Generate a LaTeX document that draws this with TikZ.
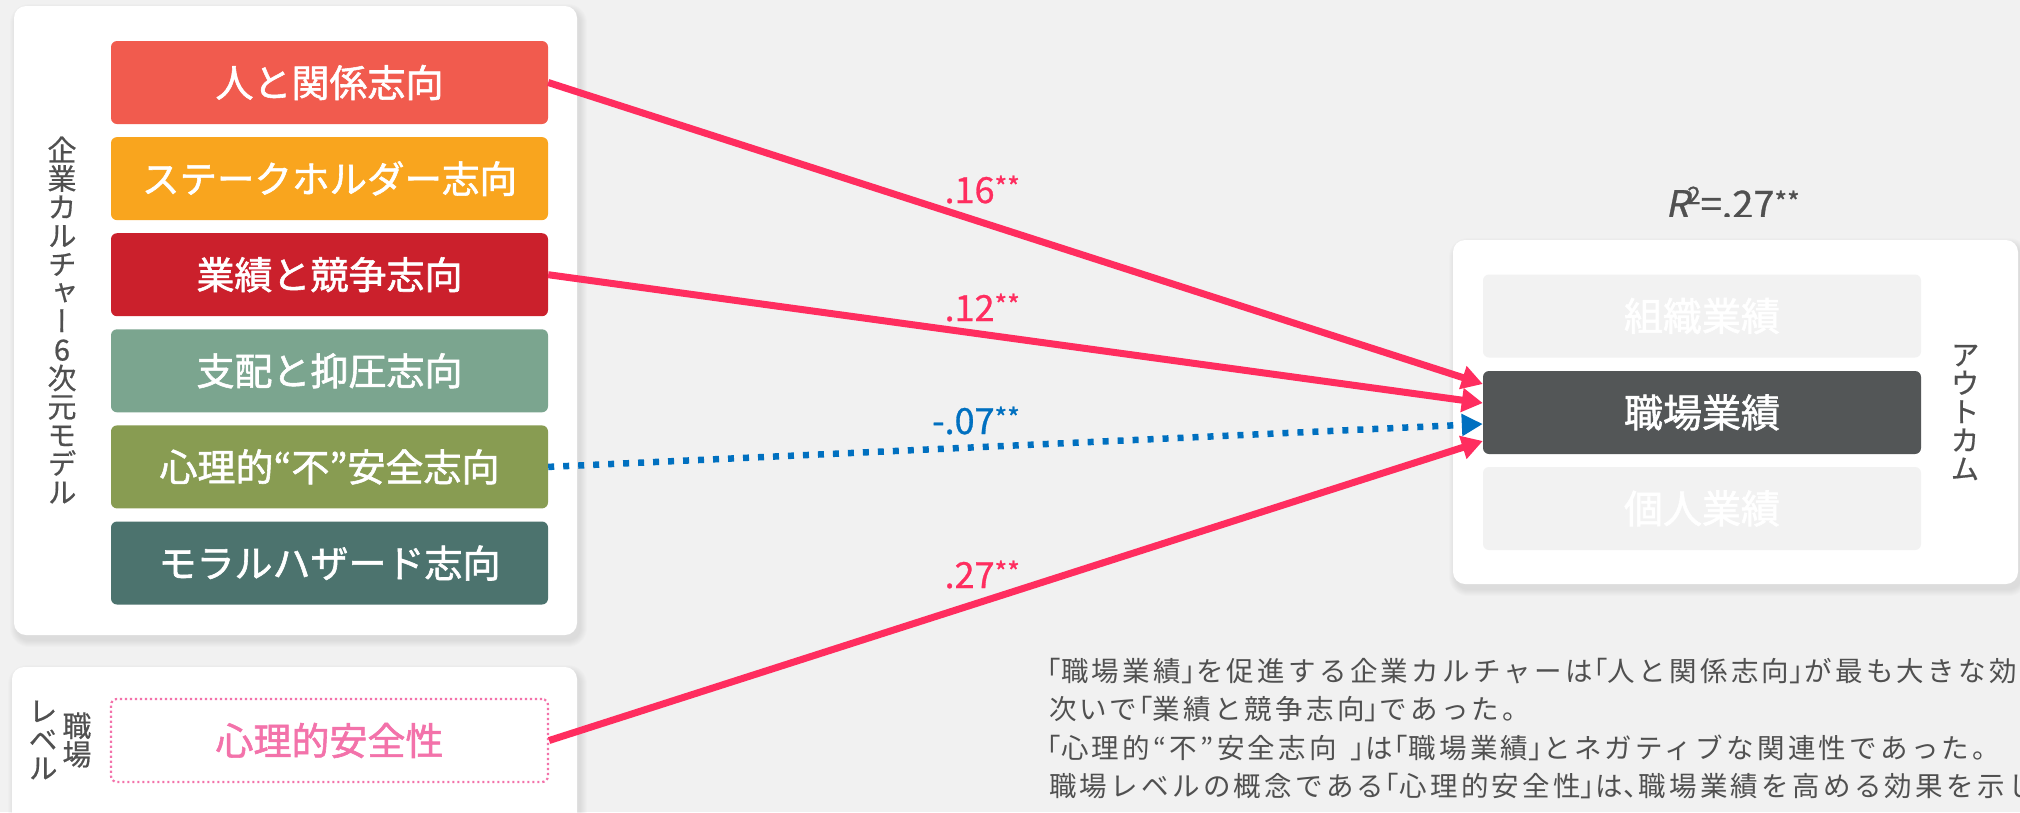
\documentclass[tikz,border=0pt]{standalone}
\usepackage{fontspec}
\setmainfont{Noto Sans CJK JP}
\newfontfamily\jpfont{Noto Sans CJK JP}[LetterSpace=12]
\newfontfamily\boxfont{Noto Sans CJK JP}[FakeBold=1.5]
\newfontfamily\numfont{Noto Sans CJK JP}[FakeBold=0.8]
\newfontfamily\vfont{Noto Sans CJK JP}[RawFeature={+vert}, FakeBold=0.6]
\newfontfamily\slfont{Noto Sans CJK JP}[FakeSlant=0.2, FakeBold=0.8]
\usetikzlibrary{arrows.meta,calc}
\definecolor{bg}{HTML}{F1F1F1}
\definecolor{c1}{HTML}{F15B4E}
\definecolor{c2}{HTML}{F9A51E}
\definecolor{c3}{HTML}{CB202C}
\definecolor{c4}{HTML}{7BA58F}
\definecolor{c5}{HTML}{889C52}
\definecolor{c6}{HTML}{4C736E}
\definecolor{pinkline}{HTML}{FF2D5F}
\definecolor{blueline}{HTML}{0070C0}
\definecolor{psypink}{HTML}{F372AA}
\definecolor{txtgray}{HTML}{505050}
\definecolor{outdark}{HTML}{535657}
\definecolor{outlight}{HTML}{F2F2F2}
\newcommand{\twostars}[1]{\raisebox{#1}{\fontsize{27}{27}\selectfont **}}
\newcommand{\kl}{\makebox[15pt][r]{「}}
\newcommand{\kr}{\makebox[15pt][l]{」}}
\newcommand{\kc}{\makebox[15pt][l]{、}}
\begin{document}
\begin{tikzpicture}[x=1pt,y=-1pt,
  panel/.style={fill=white, rounded corners=12pt},
  shadowlayer/.style={fill=black, opacity=0.012},
  cbox/.style={rounded corners=6pt, minimum width=437pt, minimum height=83pt, inner sep=0pt, text=white, font={\boxfont\fontsize{38}{40}\selectfont}},
  obox/.style={rounded corners=6pt, minimum width=438pt, minimum height=83pt, inner sep=0pt, text=white, font={\boxfont\fontsize{39}{41}\selectfont}},
  arr/.style={draw=pinkline, line width=7pt, -{Triangle[length=21pt,width=23pt]}},
  darr/.style={draw=blueline, line width=6.5pt, dash pattern=on 6pt off 9pt, -{Triangle[length=21pt,width=21pt]}},
  coef/.style={anchor=base east, inner sep=0pt, font={\numfont\fontsize{36}{38}\selectfont}},
  vlab/.style={align=center, inner sep=0pt, text=txtgray, font={\vfont\fontsize{29}{28.5}\selectfont\lineskiplimit=-30pt}},
  para/.style={anchor=base west, inner sep=0pt, text=txtgray, font={\jpfont\fontsize{27.5}{30}\selectfont}}
]
\useasboundingbox (0,0) rectangle (2020,812);
\fill[bg] (0,0) rectangle (2020,812);
\clip (0,0) rectangle (2020,812);

% soft shadows
\foreach \k in {1,...,7}{
  \fill[shadowlayer, rounded corners=12pt+\k pt] (14-\k+3,6-\k+5) rectangle (577+\k+3,635+\k+5);
  \fill[shadowlayer, rounded corners=12pt+\k pt] (12-\k+3,667-\k+5) rectangle (577+\k+3,840+\k+5);
  \fill[shadowlayer, rounded corners=12pt+\k pt] (1453-\k+3,240-\k+5) rectangle (2018+\k+3,584+\k+5);
}
% panels
\fill[panel] (14,6) rectangle (577,635);
\fill[panel] (12,667) rectangle (577,840);
\fill[panel] (1453,240) rectangle (2018,584);

% culture boxes
\node[cbox, fill=c1] (b1) at (329.5,82.5) {人と関係志向};
\node[cbox, fill=c2, font={\boxfont\fontsize{37.5}{40}\selectfont}] (b2) at (329.5,178.6) {ステークホルダー志向};
\node[cbox, fill=c3] (b3) at (329.5,274.7) {業績と競争志向};
\node[cbox, fill=c4] (b4) at (329.5,370.8) {支配と抑圧志向};
\node[cbox, fill=c5] (b5) at (329.5,466.9) {心理的“不”安全志向};
\node[cbox, fill=c6] (b6) at (329.5,563) {モラルハザード志向};

% workplace level box
\node[cbox, fill=white, draw=psypink, line width=2.2pt, dash pattern=on 2.2pt off 2.8pt, text=psypink] (psy) at (329.5,740.5) {心理的安全性};

% vertical labels
\node[vlab] (culture) at (62,320) {企\\業\\カ\\ル\\チ\\ャ\\ー\\6\\次\\元\\モ\\デ\\ル};
\node[vlab] (shokuba) at (77,740) {職\\場};
\node[vlab] (level) at (43,740) {レ\\ベ\\ル};
\node[vlab] (outcome) at (1965,412.5) {ア\\ウ\\ト\\カ\\ム};

% outcome boxes
\node[obox, fill=outlight] (o1) at (1702,316) {組織業績};
\node[obox, fill=outdark] (o2) at (1702,412.5) {職場業績};
\node[obox, fill=outlight] (o3) at (1702,508.5) {個人業績};

% R squared
\begin{scope}
\clip (1600,150) rectangle (1860,216.5);
\node[anchor=base west, inner sep=0pt, text=txtgray, font={\numfont\fontsize{38}{40}\selectfont}] (r2) at (1665,218)
  {{\slfont R}\hspace{-2pt}\raisebox{14pt}{\fontsize{24}{24}\selectfont 2}=.27\twostars{6pt}};
\end{scope}

% connectors
\draw[arr] (b1.east) -- ([yshift=28.5pt]o2.west);
\draw[arr] (b3.east) -- ([yshift=9.5pt]o2.west);
\draw[darr] (b5.east) -- ([yshift=-11.5pt]o2.west);
\draw[arr] (psy.east) -- ([yshift=-28.5pt]o2.west);

% coefficients
\node[coef, text=pinkline] (k1) at (1020,203) {.16\twostars{6pt}};
\node[coef, text=pinkline] (k2) at (1020,321) {.12\twostars{6pt}};
\node[coef, text=blueline] (k3) at (1020,434) {-.07\twostars{6pt}};
\node[coef, text=pinkline] (k4) at (1020,588) {.27\twostars{6pt}};

% explanatory text
\node[para] (t1) at (1046,681) {\kl 職場業績\kr を促進する企業カルチャーは\kl 人と関係志向\kr が最も大きな効果};
\node[para] (t2) at (1049,719.5) {次いで\kl 業績と競争志向\kr であった。};
\node[para] (t3) at (1046,758) {\kl 心理的“不”安全志向\hspace{14pt}\kr は\kl 職場業績\kr とネガティブな関連性であった。};
\node[para] (t4) at (1049,796.5) {職場レベルの概念である\kl 心理的安全性\kr は\kc 職場業績を高める効果を示し};
\end{tikzpicture}
\end{document}
